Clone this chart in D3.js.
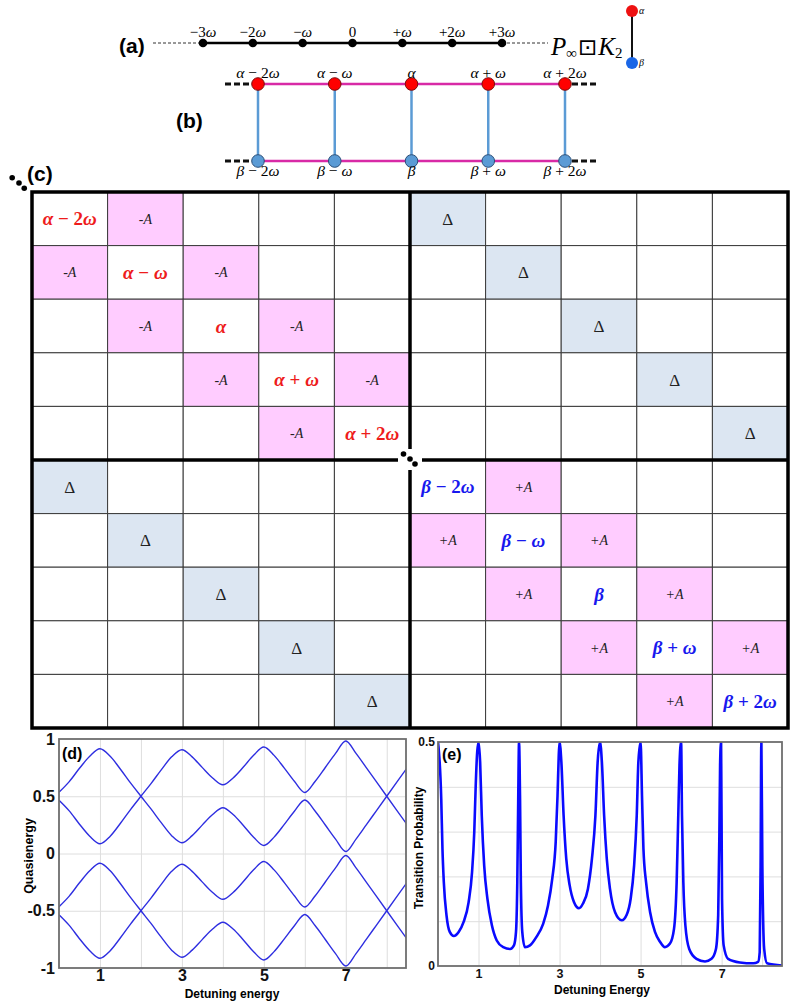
<!DOCTYPE html>
<html lang="en">
<head>
<meta charset="UTF-8">
<title>Floquet ladder P∞ ⊡ K2: lattice, matrix, quasienergy and transition probability</title>
<script src="https://d3js.org/d3.v7.min.js"></script>
<style>
  body { margin: 0; background: #fff; }
  svg { display: block; font-family: "Liberation Sans", Arial, sans-serif; }
  .serif { font-family: "Liberation Serif", "Times New Roman", serif; white-space: pre; }
  .grid line { stroke: #dedede; stroke-width: 1; }
  .grid path { display: none; }
  .ticks path { display: none; }
  .ticks text { font-weight: bold; fill: #111; }
</style>
</head>
<body>
<div id="chart"></div>
<script>
  // ---------- data ----------
  const latticeSites = ["−3ω", "−2ω", "−ω", "0", "+ω", "+2ω", "+3ω"];
  const alphaSites = ["α − 2ω", "α − ω", "α", "α + ω", "α + 2ω"];
  const betaSites = ["β − 2ω", "β − ω", "β", "β + ω", "β + 2ω"];
  const alphaCoupling = "-A";
  const betaCoupling = "+A";
  const interCoupling = "Δ";

  // (d) quasienergy bands vs detuning
  const detuning = [0, 0.25, 0.5, 0.75, 1, 1.25, 1.5, 1.75, 2, 2.25, 2.5, 2.75, 3, 3.25, 3.5, 3.75,
    4, 4.25, 4.5, 4.75, 5, 5.25, 5.5, 5.75, 6, 6.25, 6.5, 6.75, 7, 7.25, 7.5, 7.75, 8, 8.25, 8.5];
  const band1 = [0.535, 0.628, 0.744, 0.849, 0.915, 0.849, 0.736, 0.614, 0.500, 0.387, 0.267, 0.156,
    0.094, 0.156, 0.250, 0.340, 0.400, 0.340, 0.245, 0.143, 0.070, 0.143, 0.254, 0.371, 0.467, 0.371,
    0.249, 0.126, 0.017, 0.126, 0.250, 0.375, 0.500, 0.625, 0.750];
  const band2 = [0.465, 0.372, 0.256, 0.151, 0.085, 0.151, 0.264, 0.386, 0.500, 0.613, 0.733, 0.844,
    0.906, 0.844, 0.750, 0.660, 0.600, 0.660, 0.755, 0.857, 0.930, 0.857, 0.746, 0.629, 0.533, 0.629,
    0.751, 0.874, 0.983, 0.874, 0.750, 0.625, 0.500, 0.375, 0.250];
  const band3 = [-0.465, -0.372, -0.256, -0.151, -0.085, -0.151, -0.264, -0.386, -0.500, -0.613, -0.733, -0.844,
    -0.906, -0.844, -0.750, -0.660, -0.600, -0.660, -0.755, -0.857, -0.930, -0.857, -0.746, -0.629, -0.533, -0.629,
    -0.751, -0.874, -0.983, -0.874, -0.750, -0.625, -0.500, -0.375, -0.250];
  const band4 = [-0.535, -0.628, -0.744, -0.849, -0.915, -0.849, -0.736, -0.614, -0.500, -0.387, -0.267, -0.156,
    -0.094, -0.156, -0.250, -0.340, -0.400, -0.340, -0.245, -0.143, -0.070, -0.143, -0.254, -0.371, -0.467, -0.371,
    -0.249, -0.126, -0.017, -0.126, -0.250, -0.375, -0.500, -0.625, -0.750];
  const dTicksX = [1, 3, 5, 7];
  const dTicksY = [-1, -0.5, 0, 0.5, 1];
  const dGridX = [1, 2, 3, 4, 5, 6, 7, 8];
  const dGridY = [-0.5, 0, 0.5];

  // (e) transition probability vs detuning
  const probX = [0, 0.08, 0.11, 0.143, 0.21, 0.29, 0.39, 0.51, 0.63, 0.755, 0.84, 0.895, 0.93, 0.962,
    1, 1.04, 1.08, 1.14, 1.22, 1.33, 1.45, 1.61, 1.78, 1.875, 1.925, 1.957, 1.98,
    2, 2.025, 2.045, 2.08, 2.145, 2.27, 2.43, 2.595, 2.715, 2.82, 2.905, 2.95, 2.98,
    3, 3.045, 3.1, 3.165, 3.25, 3.355, 3.48, 3.575, 3.7, 3.8, 3.885, 3.94,
    4, 4.045, 4.1, 4.165, 4.245, 4.37, 4.535, 4.66, 4.755, 4.84, 4.905, 4.945,
    5, 5.035, 5.07, 5.135, 5.235, 5.355, 5.48, 5.6, 5.725, 5.825, 5.89, 5.93, 5.96,
    6, 6.022, 6.055, 6.105, 6.2, 6.38, 6.59, 6.75, 6.86, 6.915, 6.945, 6.962,
    6.985, 7.01, 7.05, 7.16, 7.45, 7.78, 7.9, 7.94, 7.962,
    7.98, 8.005, 8.05, 8.12, 8.49];
  const probY = [0.5, 0.373, 0.262, 0.188, 0.113, 0.076, 0.067, 0.076, 0.098, 0.142, 0.209, 0.299, 0.400, 0.470,
    0.5, 0.455, 0.336, 0.224, 0.150, 0.091, 0.057, 0.042, 0.038, 0.046, 0.076, 0.187, 0.373,
    0.5, 0.373, 0.187, 0.076, 0.042, 0.046, 0.065, 0.094, 0.135, 0.195, 0.277, 0.380, 0.470,
    0.5, 0.455, 0.336, 0.240, 0.180, 0.143, 0.129, 0.139, 0.172, 0.240, 0.336, 0.455,
    0.5, 0.455, 0.336, 0.240, 0.172, 0.120, 0.102, 0.115, 0.150, 0.224, 0.336, 0.455,
    0.5, 0.380, 0.262, 0.187, 0.120, 0.076, 0.054, 0.042, 0.050, 0.083, 0.187, 0.336, 0.448,
    0.5, 0.336, 0.187, 0.091, 0.038, 0.016, 0.010, 0.016, 0.038, 0.113, 0.299, 0.448,
    0.5, 0.150, 0.046, 0.016, 0.008, 0.006, 0.009, 0.031, 0.224,
    0.5, 0.224, 0.038, 0.006, 0.001];
  const eTicksX = [1, 3, 5, 7];
  const eTicksY = [0, 0.5];
  const eGridX = [1, 2, 3, 4, 5, 6, 7, 8];
  const eGridY = [0.1, 0.2, 0.3, 0.4];

  const svg = d3.select("#chart").append("svg")
    .attr("width", 791)
    .attr("height", 1002);

  // greek letters italic, everything else upright
  function mathText(sel, str) {
    const parts = str.match(/[α-ω]+|[^α-ω]+/g);
    parts.forEach(p => {
      sel.append("tspan")
        .style("font-style", /[α-ω]/.test(p) ? "italic" : "normal")
        .text(p);
    });
  }

  function panelLabel(x, y, txt, size) {
    svg.append("text")
      .attr("x", x).attr("y", y)
      .style("font-size", size + "px")
      .style("font-weight", "bold")
      .text(txt);
  }

  // ---------- (a) lattice ----------
  panelLabel(119, 53, "(a)", 21);
  const ax = d3.scalePoint().domain(latticeSites).range([203, 502]);
  const aY = 43;

  svg.append("line")
    .attr("x1", 153).attr("x2", ax(latticeSites[0])).attr("y1", aY).attr("y2", aY)
    .attr("stroke", "#333").attr("stroke-width", 1).attr("stroke-dasharray", "3,2");
  svg.append("line")
    .attr("x1", ax(latticeSites[6])).attr("x2", 548).attr("y1", aY).attr("y2", aY)
    .attr("stroke", "#333").attr("stroke-width", 1).attr("stroke-dasharray", "3,2");
  svg.append("line")
    .attr("x1", ax(latticeSites[0])).attr("x2", ax(latticeSites[6])).attr("y1", aY).attr("y2", aY)
    .attr("stroke", "#000").attr("stroke-width", 2.5);

  svg.selectAll(".adot")
    .data(latticeSites)
    .join("circle")
    .attr("class", "adot")
    .attr("cx", d => ax(d)).attr("cy", aY).attr("r", 4.3)
    .attr("fill", "#000");

  svg.selectAll(".alab")
    .data(latticeSites)
    .join("text")
    .attr("class", "alab serif")
    .attr("x", d => ax(d)).attr("y", 37)
    .attr("text-anchor", "middle")
    .style("font-size", "15px")
    .each(function(d) { mathText(d3.select(this), d); });

  // P∞ ⊡ K2
  const pk = svg.append("text").attr("class", "serif")
    .attr("x", 551).attr("y", 55)
    .style("font-size", "25px");
  pk.append("tspan").style("font-style", "italic").text("P");
  pk.append("tspan").attr("dy", 3).style("font-size", "15px").text("∞");
  pk.append("tspan").attr("dy", -3).attr("dx", 1).style("font-family", "DejaVu Sans").style("font-size", "23px").text("⊡");
  pk.append("tspan").attr("dx", 1).style("font-style", "italic").text("K");
  pk.append("tspan").attr("dy", 3).style("font-size", "15px").text("2");

  // K2 graph
  svg.append("line")
    .attr("x1", 632).attr("x2", 632).attr("y1", 11).attr("y2", 63)
    .attr("stroke", "#111").attr("stroke-width", 2);
  svg.append("circle").attr("cx", 632).attr("cy", 11).attr("r", 6).attr("fill", "#ee1111");
  svg.append("circle").attr("cx", 632).attr("cy", 63).attr("r", 6).attr("fill", "#1a66e6");
  svg.append("text").attr("class", "serif").attr("x", 639).attr("y", 14)
    .style("font-size", "10px").style("font-style", "italic").text("α");
  svg.append("text").attr("class", "serif").attr("x", 639).attr("y", 66)
    .style("font-size", "10px").style("font-style", "italic").text("β");

  // ---------- (b) ladder ----------
  panelLabel(176, 128, "(b)", 21);
  const bx = d3.scalePoint().domain(d3.range(alphaSites.length)).range([258, 565]);
  const bTop = 84, bBot = 161;

  [bTop, bBot].forEach(yy => {
    svg.append("line")
      .attr("x1", 225).attr("x2", 252).attr("y1", yy).attr("y2", yy)
      .attr("stroke", "#111").attr("stroke-width", 3).attr("stroke-dasharray", "6,3");
    svg.append("line")
      .attr("x1", 572).attr("x2", 599).attr("y1", yy).attr("y2", yy)
      .attr("stroke", "#111").attr("stroke-width", 3).attr("stroke-dasharray", "6,3");
    svg.append("line")
      .attr("x1", bx(0)).attr("x2", bx(4)).attr("y1", yy).attr("y2", yy)
      .attr("stroke", "#d82aa6").attr("stroke-width", 2.5);
  });

  svg.selectAll(".rung")
    .data(d3.range(alphaSites.length))
    .join("line")
    .attr("class", "rung")
    .attr("x1", d => bx(d)).attr("x2", d => bx(d))
    .attr("y1", bTop).attr("y2", bBot)
    .attr("stroke", "#5b9bd5").attr("stroke-width", 2.5);

  svg.selectAll(".rdot")
    .data(d3.range(alphaSites.length))
    .join("circle")
    .attr("class", "rdot")
    .attr("cx", d => bx(d)).attr("cy", bTop).attr("r", 6.3)
    .attr("fill", "#ff0000").attr("stroke", "#7a1010").attr("stroke-width", 1);

  svg.selectAll(".bdot")
    .data(d3.range(betaSites.length))
    .join("circle")
    .attr("class", "bdot")
    .attr("cx", d => bx(d)).attr("cy", bBot).attr("r", 6.3)
    .attr("fill", "#5b9bd5").attr("stroke", "#2c4f78").attr("stroke-width", 1);

  svg.selectAll(".tlab")
    .data(alphaSites)
    .join("text")
    .attr("class", "tlab serif")
    .attr("x", (d, i) => bx(i)).attr("y", 78)
    .attr("text-anchor", "middle")
    .style("font-size", "15.5px")
    .each(function(d) { mathText(d3.select(this), d); });

  svg.selectAll(".blab")
    .data(betaSites)
    .join("text")
    .attr("class", "blab serif")
    .attr("x", (d, i) => bx(i)).attr("y", 176)
    .attr("text-anchor", "middle")
    .style("font-size", "15.5px")
    .each(function(d) { mathText(d3.select(this), d); });

  // ---------- (c) Floquet matrix ----------
  panelLabel(27, 181, "(c)", 21);
  const idx = d3.range(alphaSites.length + betaSites.length);
  const half = alphaSites.length;
  const mx = d3.scaleBand().domain(idx).range([32, 788]);
  const my = d3.scaleBand().domain(idx).range([192, 728]);

  const cells = d3.cross(idx, idx).map(([r, c]) => {
    const sameBlock = (r < half) === (c < half);
    let kind = "empty", text = "";
    if (r === c) {
      kind = r < half ? "alpha" : "beta";
      text = r < half ? alphaSites[r] : betaSites[r - half];
    } else if (sameBlock && Math.abs(r - c) === 1) {
      kind = "coupling";
      text = r < half ? alphaCoupling : betaCoupling;
    } else if (Math.abs(r - c) === half) {
      kind = "delta";
      text = interCoupling;
    }
    return {r, c, kind, text};
  });

  const fills = {coupling: "#ffccff", delta: "#dce6f2"};

  svg.selectAll(".cell")
    .data(cells)
    .join("rect")
    .attr("class", "cell")
    .attr("x", d => mx(d.c)).attr("y", d => my(d.r))
    .attr("width", mx.bandwidth()).attr("height", my.bandwidth())
    .attr("fill", d => fills[d.kind] || "#fff")
    .attr("stroke", "#3a3a3a").attr("stroke-width", 1);

  const cellText = svg.selectAll(".ctext")
    .data(cells.filter(d => d.kind !== "empty"))
    .join("text")
    .attr("class", "ctext serif")
    .attr("x", d => mx(d.c) + mx.bandwidth() / 2)
    .attr("y", d => my(d.r) + my.bandwidth() / 2)
    .attr("dy", "0.35em")
    .attr("text-anchor", "middle");

  cellText.filter(d => d.kind === "alpha" || d.kind === "beta")
    .style("font-size", "19px")
    .style("font-weight", "bold")
    .attr("fill", d => d.kind === "alpha" ? "#ee1c1c" : "#1818ee")
    .each(function(d) { mathText(d3.select(this), d.text); });

  cellText.filter(d => d.kind === "coupling")
    .style("font-size", "14px")
    .style("font-style", "italic")
    .attr("fill", "#222")
    .text(d => d.text);

  cellText.filter(d => d.kind === "delta")
    .style("font-size", "17px")
    .attr("fill", "#222")
    .text(d => d.text);

  // block borders, the middle cross is broken where the dots sit
  const midX = mx(half), midY = my(half);
  svg.append("rect")
    .attr("x", 32).attr("y", 192).attr("width", 756).attr("height", 536)
    .attr("fill", "none").attr("stroke", "#000").attr("stroke-width", 3.5);
  svg.append("rect")
    .attr("x", midX - 12).attr("y", midY - 11).attr("width", 24).attr("height", 21)
    .attr("fill", "#fff");
  [[192, midY - 11], [midY + 10, 728]].forEach(([y1, y2]) => {
    svg.append("line")
      .attr("x1", midX).attr("x2", midX).attr("y1", y1).attr("y2", y2)
      .attr("stroke", "#000").attr("stroke-width", 3.5);
  });
  [[32, midX - 12], [midX + 12, 788]].forEach(([x1, x2]) => {
    svg.append("line")
      .attr("x1", x1).attr("x2", x2).attr("y1", midY).attr("y2", midY)
      .attr("stroke", "#000").attr("stroke-width", 3.5);
  });

  // diagonal dots
  const dotOffsets = [[-6.5, -5], [0, 0], [5, 5]];
  svg.selectAll(".ddot1")
    .data(dotOffsets)
    .join("circle")
    .attr("class", "ddot1")
    .attr("cx", d => 19 + d[0] * 1.05).attr("cy", d => 183 + d[1] * 1.05).attr("r", 2.8)
    .attr("fill", "#000");
  svg.selectAll(".ddot2")
    .data(dotOffsets)
    .join("circle")
    .attr("class", "ddot2")
    .attr("cx", d => midX + d[0]).attr("cy", d => midY - 1 + d[1]).attr("r", 2.8)
    .attr("fill", "#000");

  // ---------- (d) quasienergy ----------
  const dX = d3.scaleLinear().domain([0, 8.47]).range([59, 406]);
  const dY = d3.scaleLinear().domain([-1, 1]).range([968, 739]);

  svg.append("g")
    .attr("class", "grid")
    .attr("transform", "translate(0,968)")
    .call(d3.axisBottom(dX).tickValues(dGridX).tickSize(-229).tickFormat(""));
  svg.append("g")
    .attr("class", "grid")
    .attr("transform", "translate(59,0)")
    .call(d3.axisLeft(dY).tickValues(dGridY).tickSize(-347).tickFormat(""));

  svg.append("clipPath").attr("id", "clipD")
    .append("rect").attr("x", 59).attr("y", 739).attr("width", 347).attr("height", 229);

  const dLine = d3.line()
    .x((d, i) => dX(detuning[i]))
    .y(d => dY(d))
    .curve(d3.curveMonotoneX);

  svg.append("g").attr("clip-path", "url(#clipD)")
    .selectAll("path")
    .data([band1, band2, band3, band4])
    .join("path")
    .attr("d", dLine)
    .attr("fill", "none")
    .attr("stroke", "#2e2ee0")
    .attr("stroke-width", 1.4);

  svg.append("rect")
    .attr("x", 59).attr("y", 739).attr("width", 347).attr("height", 229)
    .attr("fill", "none").attr("stroke", "#6e6e6e").attr("stroke-width", 1.8);

  svg.append("g")
    .attr("class", "ticks")
    .attr("transform", "translate(59,0)")
    .call(d3.axisLeft(dY).tickValues(dTicksY).tickSize(0).tickPadding(4).tickFormat(d => String(d)))
    .selectAll("text").style("font-size", "16px").style("font-family", "Liberation Sans, Arial, sans-serif");
  svg.append("g")
    .attr("class", "ticks")
    .attr("transform", "translate(0,968)")
    .call(d3.axisBottom(dX).tickValues(dTicksX).tickSize(0).tickPadding(2).tickFormat(d => String(d)))
    .selectAll("text").style("font-size", "16px").style("font-family", "Liberation Sans, Arial, sans-serif");

  svg.append("text")
    .attr("x", 232).attr("y", 998)
    .attr("text-anchor", "middle")
    .style("font-size", "12px").style("font-weight", "bold")
    .text("Detuning energy");
  svg.append("text")
    .attr("transform", "translate(33,856) rotate(-90)")
    .attr("text-anchor", "middle")
    .style("font-size", "12.5px").style("font-weight", "bold")
    .text("Quasienergy");
  panelLabel(62, 759, "(d)", 16);

  // ---------- (e) transition probability ----------
  const eX = d3.scaleLinear().domain([0, 8.49]).range([438, 782]);
  const eY = d3.scaleLinear().domain([0, 0.5]).range([966, 742]);

  svg.append("g")
    .attr("class", "grid")
    .attr("transform", "translate(0,966)")
    .call(d3.axisBottom(eX).tickValues(eGridX).tickSize(-224).tickFormat(""));
  svg.append("g")
    .attr("class", "grid")
    .attr("transform", "translate(438,0)")
    .call(d3.axisLeft(eY).tickValues(eGridY).tickSize(-344).tickFormat(""));

  svg.append("clipPath").attr("id", "clipE")
    .append("rect").attr("x", 438).attr("y", 742).attr("width", 344).attr("height", 224);

  const eLine = d3.line()
    .x((d, i) => eX(probX[i]))
    .y(d => eY(d))
    .curve(d3.curveMonotoneX);

  svg.append("path")
    .datum(probY)
    .attr("clip-path", "url(#clipE)")
    .attr("d", eLine)
    .attr("fill", "none")
    .attr("stroke", "#0a0aff")
    .attr("stroke-width", 2.6);

  svg.append("rect")
    .attr("x", 438).attr("y", 742).attr("width", 344).attr("height", 224)
    .attr("fill", "none").attr("stroke", "#6e6e6e").attr("stroke-width", 1.8);

  svg.append("g")
    .attr("class", "ticks")
    .attr("transform", "translate(438,0)")
    .call(d3.axisLeft(eY).tickValues(eTicksY).tickSize(0).tickPadding(3).tickFormat(d => String(d)))
    .selectAll("text").style("font-size", "12px").style("font-family", "Liberation Sans, Arial, sans-serif");
  svg.append("g")
    .attr("class", "ticks")
    .attr("transform", "translate(0,966)")
    .call(d3.axisBottom(eX).tickValues(eTicksX).tickSize(0).tickPadding(3).tickFormat(d => String(d)))
    .selectAll("text").style("font-size", "12.5px").style("font-family", "Liberation Sans, Arial, sans-serif");

  svg.append("text")
    .attr("x", 602).attr("y", 994)
    .attr("text-anchor", "middle")
    .style("font-size", "12px").style("font-weight", "bold")
    .text("Detuning Energy");
  svg.append("text")
    .attr("transform", "translate(423,848) rotate(-90)")
    .attr("text-anchor", "middle")
    .style("font-size", "12px").style("font-weight", "bold")
    .text("Transition Probability");
  panelLabel(442, 760, "(e)", 16);
</script>
</body>
</html>
